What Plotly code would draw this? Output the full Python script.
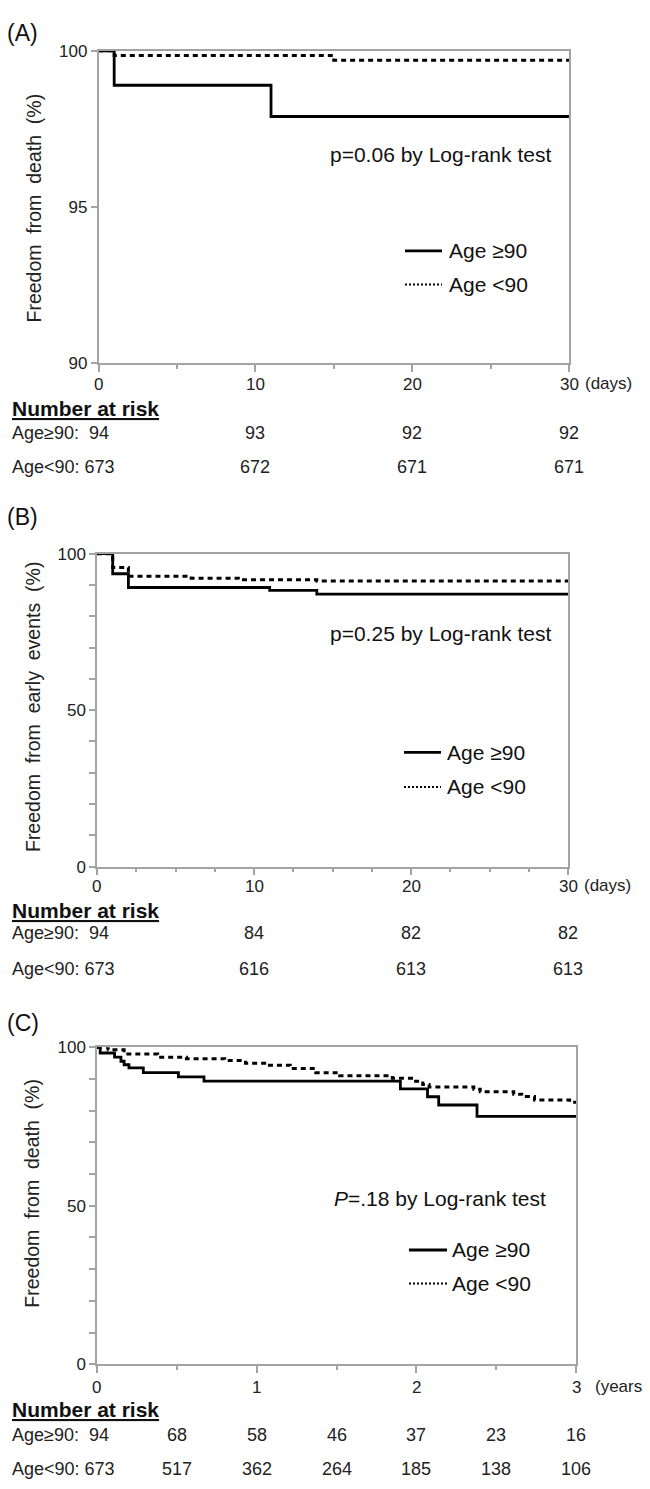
import plotly.graph_objects as go

# page body adds an 8px margin; the figure is sized so that it fills the 650x1489 window
OFF = 8
W, H = 650 - OFF, 1489 - OFF
FONT = "Arial, Liberation Sans, sans-serif"
AXC = "#a3a3a3"

# ---------------- data ----------------
# Panel A: freedom from death, 30 days
A_old_t = [0, 1, 11, 30]
A_old_s = [100, 98.9, 97.9, 97.9]
A_young_t = [0, 1, 15, 30]
A_young_s = [100, 99.85, 99.7, 99.7]
A_risk_times = [0, 10, 20, 30]
A_risk_old = [94, 93, 92, 92]
A_risk_young = [673, 672, 671, 671]

# Panel B: freedom from early events, 30 days
B_old_t = [0, 1, 2, 11, 14, 30]
B_old_s = [100, 93.6, 89.2, 88.3, 87.1, 87.1]
B_young_t = [0, 1, 2, 6, 9, 14, 30]
B_young_s = [100, 95.6, 92.8, 92.2, 91.7, 91.3, 91.3]
B_risk_times = [0, 10, 20, 30]
B_risk_old = [94, 84, 82, 82]
B_risk_young = [673, 616, 613, 613]

# Panel C: freedom from death, 3 years
C_old_t = [0, 0.02, 0.11, 0.15, 0.17, 0.20, 0.29, 0.51, 0.67, 1.90, 2.07, 2.14, 2.38, 3.0]
C_old_s = [100, 98.2, 96.9, 95.6, 94.5, 93.5, 92.0, 90.7, 89.3, 86.9, 84.4, 81.8, 78.2, 78.2]
C_young_t = [0, 0.07, 0.17, 0.38, 0.56, 0.80, 0.93, 1.06, 1.21, 1.37, 1.52, 1.85, 1.97,
             2.04, 2.08, 2.36, 2.40, 2.61, 2.66, 2.74, 2.96, 3.0]
C_young_s = [100, 99.2, 97.9, 96.9, 96.4, 95.8, 95.0, 94.3, 93.3, 92.0, 91.0, 90.2, 89.3,
             88.3, 87.5, 86.8, 86.0, 85.2, 84.5, 83.4, 82.7, 82.7]
C_risk_times = [0, 0.5, 1, 1.5, 2, 2.5, 3]
C_risk_old = [94, 68, 58, 46, 37, 23, 16]
C_risk_young = [673, 517, 362, 264, 185, 138, 106]

panel_labels = ["(A)", "(B)", "(C)"]
y_titles = ["Freedom from death (%)", "Freedom from early events (%)", "Freedom from death (%)"]
p_texts = ["p=0.06 by Log-rank test", "p=0.25 by Log-rank test", "<i>P</i>=.18 by Log-rank test"]
x_units = ["(days)", "(days)", "(years)"]
legend_names = ["Age \u226590", "Age <90"]
row_names = ["Age\u226590:", "Age<90:"]


def px(x):
    return (x - OFF) / W


def py(y):
    return 1 - (y - OFF) / H


# layout geometry (window pixels)
panels = [
    dict(l=98.5, r=569, t=42.3, b=359, yr=[90, 100], ydt=5, yminor=None,
         xr=[0, 30], xdt=10, xminor=5,
         lab_y=24, ptxt_r=553, ptxt_y=147, leg_x0=405, leg_x1=442, leg_tx=447,
         leg_y=[245, 279], tick_y=380, unit_x=584, hdr_y=405, r1=429, r2=464, ytl_x=34, ytl_y=202),
    dict(l=97, r=568, t=551.7, b=868.7, yr=[0, 100], ydt=50, yminor=10,
         xr=[0, 30], xdt=10, xminor=2.5,
         lab_y=515, ptxt_r=553, ptxt_y=633, leg_x0=404, leg_x1=441, leg_tx=445,
         leg_y=[753, 788], tick_y=889, unit_x=583, hdr_y=913, r1=936, r2=972, ytl_x=33, ytl_y=707),
    dict(l=97, r=576, t=1051.7, b=1372.7, yr=[0, 100], ydt=50, yminor=10,
         xr=[0, 3], xdt=1, xminor=0.5,
         lab_y=1027, ptxt_r=548, ptxt_y=1205, leg_x0=409, leg_x1=447, leg_tx=450,
         leg_y=[1257, 1291], tick_y=1396, unit_x=594, hdr_y=1419, r1=1444, r2=1479, ytl_x=32, ytl_y=1200),
]

series = [
    (A_old_t, A_old_s, A_young_t, A_young_s, A_risk_times, A_risk_old, A_risk_young),
    (B_old_t, B_old_s, B_young_t, B_young_s, B_risk_times, B_risk_old, B_risk_young),
    (C_old_t, C_old_s, C_young_t, C_young_s, C_risk_times, C_risk_old, C_risk_young),
]

fig = go.Figure()
annotations = []
shapes = []
layout_axes = {}

for i, (p, s) in enumerate(zip(panels, series)):
    n = "" if i == 0 else str(i + 1)
    xa, ya = "x" + n, "y" + n
    ot, os_, yt, ys, rt, ro, ry = s
    fig.add_trace(go.Scatter(x=yt, y=ys, mode="lines", line_shape="hv",
                             line=dict(color="black", width=3, dash="5px,4px"),
                             xaxis=xa, yaxis=ya, showlegend=False, cliponaxis=False))
    fig.add_trace(go.Scatter(x=ot, y=os_, mode="lines", line_shape="hv",
                             line=dict(color="black", width=2.8),
                             xaxis=xa, yaxis=ya, showlegend=False, cliponaxis=False))

    xk = "xaxis" + n
    yk = "yaxis" + n
    layout_axes[xk] = dict(
        domain=[px(p["l"]), px(p["r"])], range=p["xr"], anchor=ya,
        tickmode="linear", tick0=0, dtick=p["xdt"], ticks="outside", ticklen=7,
        tickwidth=1.5, tickcolor=AXC, showline=True, linecolor=AXC, linewidth=1.5,
        mirror=True, showgrid=False, zeroline=False, showticklabels=False,
        minor=dict(tick0=0, dtick=p["xminor"], ticks="outside", ticklen=4,
                   tickwidth=1.5, tickcolor=AXC, showgrid=False),
    )
    ydict = dict(
        domain=[py(p["b"]), py(p["t"])], range=p["yr"], anchor=xa,
        tickmode="linear", tick0=0, dtick=p["ydt"], ticks="outside", ticklen=6,
        tickwidth=1.5, tickcolor=AXC, showline=True, linecolor=AXC, linewidth=1.5,
        mirror=True, showgrid=False, zeroline=False,
        tickfont=dict(family=FONT, size=17, color="#222"),
    )
    if p["yminor"]:
        ydict["minor"] = dict(tick0=0, dtick=p["yminor"], ticks="outside", ticklen=6,
                              tickwidth=1.5, tickcolor=AXC, showgrid=False)
    layout_axes[yk] = ydict

    # x tick labels (positioned with the axis scale)
    tv = [p["xr"][0] + k * p["xdt"] for k in range(int(round((p["xr"][1] - p["xr"][0]) / p["xdt"])) + 1)]
    for v in tv:
        annotations.append(dict(x=v, xref=xa, y=py(p["tick_y"]), yref="paper",
                                text=f"{v:g}", showarrow=False, xanchor="center", yanchor="middle",
                                font=dict(family=FONT, size=17, color="#222")))
    annotations.append(dict(x=px(p["unit_x"]), y=py(p["tick_y"] - 1), xref="paper", yref="paper",
                            text=x_units[i], showarrow=False, xanchor="left", yanchor="middle",
                            borderpad=0, font=dict(family=FONT, size=17, color="#222")))
    # panel label
    annotations.append(dict(x=px(5), y=py(p["lab_y"]), xref="paper", yref="paper",
                            text=panel_labels[i], showarrow=False, xanchor="left", yanchor="middle",
                            font=dict(family=FONT, size=23, color="#111")))
    # y title (slightly wider word spacing as in the original)
    annotations.append(dict(x=px(p["ytl_x"]), y=py(p["ytl_y"]), xref="paper", yref="paper",
                            text=y_titles[i].replace(" ", "\u00a0 "), showarrow=False, textangle=-90,
                            xanchor="center", yanchor="middle",
                            font=dict(family=FONT, size=19.5, color="#222")))
    # p-value text
    annotations.append(dict(x=px(p["ptxt_r"]), y=py(p["ptxt_y"]), xref="paper", yref="paper",
                            text=p_texts[i], showarrow=False, xanchor="right", yanchor="middle",
                            font=dict(family=FONT, size=21, color="#111")))
    # legend
    for j, (nm, ly) in enumerate(zip(legend_names, p["leg_y"])):
        shapes.append(dict(type="line", xref="paper", yref="paper",
                           x0=px(p["leg_x0"]), x1=px(p["leg_x1"]), y0=py(ly), y1=py(ly),
                           line=dict(color="black", width=2.8 if j == 0 else 2,
                                     dash="solid" if j == 0 else "2px,2px")))
        annotations.append(dict(x=px(p["leg_tx"]), y=py(ly), xref="paper", yref="paper",
                                text=nm, showarrow=False, xanchor="left", yanchor="middle",
                                font=dict(family=FONT, size=21, color="#111")))
    # number at risk
    annotations.append(dict(x=px(10), y=py(p["hdr_y"]), xref="paper", yref="paper",
                            text="<b><u>Number at risk</u></b>", showarrow=False,
                            xanchor="left", yanchor="middle",
                            font=dict(family=FONT, size=21, color="#111")))
    for rname, vals, ry_ in ((row_names[0], ro, p["r1"]), (row_names[1], ry, p["r2"])):
        sep = "\u00a0\u00a0" if vals[0] < 100 else "\u00a0"
        annotations.append(dict(x=px(10), y=py(ry_), xref="paper", yref="paper",
                                text=f"{rname}{sep}{vals[0]}", showarrow=False,
                                xanchor="left", yanchor="middle",
                                font=dict(family=FONT, size=18, color="#222")))
        for t, v in zip(rt[1:], vals[1:]):
            annotations.append(dict(x=t, xref=xa, y=py(ry_), yref="paper",
                                    text=str(v), showarrow=False, xanchor="center", yanchor="middle",
                                    font=dict(family=FONT, size=18, color="#222")))

fig.update_layout(
    width=W, height=H,
    margin=dict(l=0, r=0, t=0, b=0),
    paper_bgcolor="white", plot_bgcolor="white",
    annotations=annotations, shapes=shapes,
    font=dict(family=FONT),
    **layout_axes,
)

fig.write_html("out.html")
